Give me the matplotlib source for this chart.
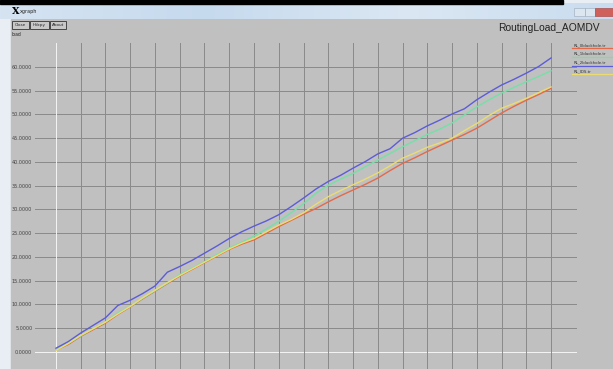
import matplotlib
matplotlib.use("Agg")
import matplotlib.pyplot as plt
import numpy as np
from matplotlib.patches import Rectangle

# Window size in pixels
W, H = 613, 369

# Simulation time of each sample
time = [0, 2.5, 5, 7.5, 10, 12.5, 15, 17.5, 20, 22.5, 25, 27.5, 30, 32.5, 35, 37.5,
        40, 42.5, 45, 47.5, 50, 52.5, 55, 57.5, 60, 62.5, 65, 67.5, 70, 72.5, 75,
        77.5, 80, 82.5, 85, 87.5, 90, 92.5, 95, 97.5, 100]

# Routing load of each trace file
rl_0blackhole = [0.4, 1.6, 3.3, 4.7, 6.1, 7.9, 9.5, 11.2, 12.8, 14.4, 16.0, 17.4, 18.8,
                 20.2, 21.6, 22.7, 23.6, 25.0, 26.4, 27.7, 29.0, 30.2, 31.6, 32.9, 34.1,
                 35.3, 36.6, 38.2, 39.7, 40.9, 42.2, 43.4, 44.6, 45.8, 47.1, 48.7, 50.3,
                 51.7, 53.0, 54.2, 55.5]
rl_1blackhole = [0.5, 1.8, 3.4, 4.9, 6.3, 8.2, 9.6, 11.3, 12.9, 14.5, 16.3, 17.6, 19.0,
                 20.5, 21.9, 23.1, 24.4, 25.9, 27.5, 29.3, 31.2, 33.4, 35.1, 36.4, 37.6,
                 39.0, 40.4, 41.8, 43.2, 44.5, 45.8, 46.9, 48.2, 49.9, 51.6, 53.1, 54.5,
                 55.7, 56.9, 58.0, 59.2]
rl_2blackhole = [0.8, 2.2, 4.0, 5.6, 7.2, 9.8, 10.9, 12.3, 13.9, 16.8, 18.0, 19.3, 20.8,
                 22.3, 23.9, 25.3, 26.5, 27.6, 28.9, 30.6, 32.4, 34.3, 35.9, 37.2, 38.7,
                 40.1, 41.7, 42.8, 45.0, 46.2, 47.6, 48.8, 50.1, 51.2, 53.1, 54.7, 56.2,
                 57.4, 58.7, 60.1, 61.9]
rl_ids = [0.3, 1.8, 3.5, 4.9, 6.3, 8.0, 9.6, 11.4, 13.0, 14.6, 16.1, 17.5, 18.9, 20.3,
          21.7, 22.9, 23.9, 25.3, 26.7, 27.9, 29.3, 31.1, 32.7, 34.0, 35.2, 36.4, 37.7,
          39.2, 40.8, 41.9, 43.1, 44.0, 45.0, 46.6, 48.1, 49.8, 51.3, 52.3, 53.4, 54.6,
          55.8]

series_names = ["RL_0blackhole.tr", "RL_1blackhole.tr", "RL_2blackhole.tr", "RL_IDS.tr"]
series_colors = ["#e26a4a", "#74e0a8", "#5c5cd8", "#ecdc70"]

y_ticks = [0, 5, 10, 15, 20, 25, 30, 35, 40, 45, 50, 55, 60]
x_grid = [0, 5, 10, 15, 20, 25, 30, 35, 40, 45, 50, 55, 60, 65, 70, 75, 80, 85, 90,
          95, 100]

fig = plt.figure(figsize=(W / 100, H / 100), dpi=100)

# background axes in pixel coordinates for the window chrome
bg = fig.add_axes([0, 0, 1, 1], zorder=0)
bg.axis("off")

bg.add_patch(Rectangle((0, 0), W, H, color="#e9eef4"))
bg.add_patch(Rectangle((11, 19), W - 11, H - 19, color="#c0c0c0"))
# title bar gradient
grad = np.linspace(0, 1, 256).reshape(1, -1)
bg.imshow(grad, extent=(0, W, 19, 3), cmap=matplotlib.colors.LinearSegmentedColormap.from_list(
    "tb", ["#d6e4f2", "#c6daee", "#dbe7f3", "#c9dcef"]), aspect="auto", zorder=1)
bg.add_patch(Rectangle((0, 0), 563, 4, color="black", zorder=2))
bg.set_xlim(0, W)
bg.set_ylim(H, 0)
bg.text(12, 12, "X", fontsize=7, fontweight="bold", va="center", family="DejaVu Serif")
bg.text(20, 12, "xgraph", fontsize=3.5, va="center", color="#222222")

# window controls
bg.add_patch(Rectangle((574, 8), 11, 8, facecolor="#dce6f0", edgecolor="#9aa8b8", lw=0.4, zorder=2))
bg.add_patch(Rectangle((585, 8), 10, 8, facecolor="#dce6f0", edgecolor="#9aa8b8", lw=0.4, zorder=2))
bg.add_patch(Rectangle((595, 8), 18, 8, facecolor="#d0605a", edgecolor="#a04040", lw=0.4, zorder=2))

# buttons
for bx, bw, label in [(12, 17, "Close"), (30, 19, "Hdcpy"), (50, 16, "About")]:
    bg.add_patch(Rectangle((bx, 21), bw, 8, facecolor="#c8c8c8", edgecolor="#333333", lw=0.6, zorder=2))
    bg.text(bx + bw / 2, 25, label, fontsize=3, ha="center", va="center", color="#222222")
bg.text(12, 34, "load", fontsize=3.3, va="center", color="#222222")

bg.text(600, 28, "RoutingLoad_AOMDV", fontsize=7.4, ha="right", va="center",
        family="Liberation Sans", color="#222222")

# legend: name with a coloured underline
for i, (name, col) in enumerate(zip(series_names, series_colors)):
    ly = 45 + i * 8.7
    bg.text(574, ly, name, fontsize=2.8, va="center", color="#333333")
    bg.plot([572, 613], [ly + 3.3, ly + 3.3], color=col, lw=0.9)

# data axes placed so the grid lands on the panel
ax = fig.add_axes([35 / W, 0, (577 - 35) / W, (H - 43) / H], zorder=1)
ax.patch.set_alpha(0)
ax.set_xlim(-4.24, 105.25)
ax.set_ylim(-3.58, 65.05)
for s in ax.spines.values():
    s.set_visible(False)

for v in y_ticks:
    ax.axhline(v, color="#f4f4f4" if v == 0 else "#8a8a8a", lw=0.7, zorder=1)
for t in x_grid:
    ax.axvline(t, color="#f4f4f4" if t == 0 else "#8a8a8a", lw=0.7, zorder=1)

for data, col in zip([rl_0blackhole, rl_1blackhole, rl_2blackhole, rl_ids], series_colors):
    ax.plot(time, data, color=col, lw=1.0, zorder=3)

ax.set_yticks(y_ticks)
ax.set_yticklabels([f"{v:.4f}" for v in y_ticks], fontsize=3.5, color="#444444")
ax.tick_params(axis="y", length=0, pad=2)
ax.set_xticks([])

fig.savefig("out.png", dpi=100)
